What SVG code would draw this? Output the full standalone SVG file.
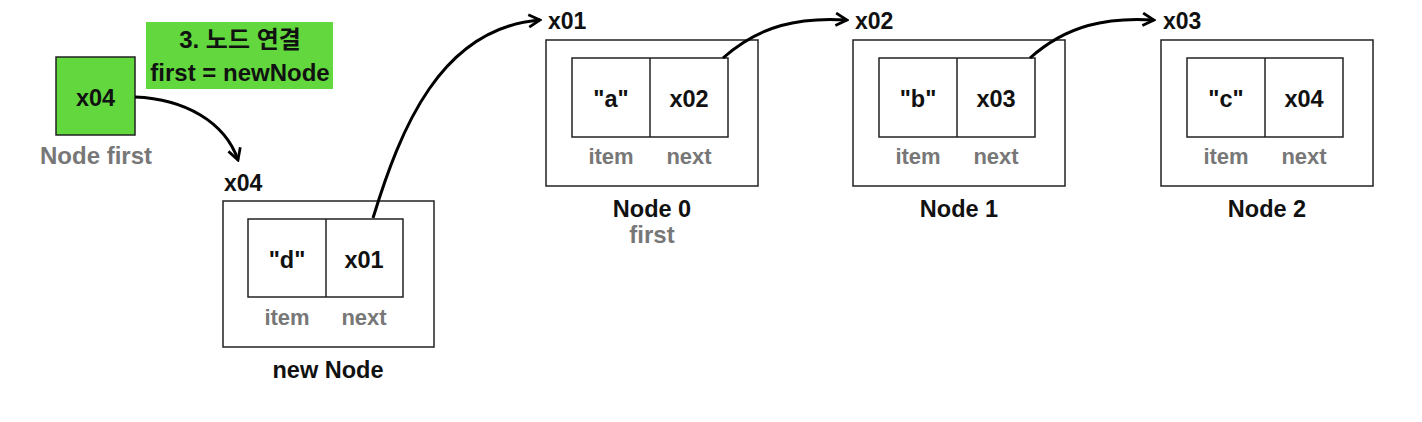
<svg xmlns="http://www.w3.org/2000/svg" width="1422" height="422" viewBox="0 0 1422 422">
<defs>
<style>
.t{font-family:"Liberation Sans",Arial,sans-serif;font-size:23.5px;fill:#111;text-anchor:middle}
.b{font-weight:bold}
.g{fill:#777;font-weight:bold;font-size:22px}
.g2{font-size:24px}
.lbl{font-family:"Liberation Sans",Arial,sans-serif;font-size:23px;fill:#111}
.box{fill:#fff;stroke:#222;stroke-width:1.5}
.conn{fill:none;stroke:#000;stroke-width:3;marker-end:url(#ah)}
</style>
<marker id="ah" viewBox="0 0 12 12" refX="10" refY="6" markerWidth="5" markerHeight="5" orient="auto" markerUnits="strokeWidth">
<path d="M1,1 L10,6 L1,11" fill="none" stroke="#000" stroke-width="2.2"/>
</marker>
</defs>
<rect width="1422" height="422" fill="#fff"/>

<g id="label">
<rect x="146" y="22" width="187" height="67" fill="#62d83e"/>
<text class="t b" x="240" y="48" style="font-family:'Liberation Sans','Noto Sans CJK KR',sans-serif;font-size:24px">3. 노드 연결</text>
<text class="t b" x="240" y="81" style="font-size:24px">first = newNode</text>
</g>

<g id="first">
<rect x="56" y="57" width="79" height="78" fill="#62d83e" stroke="#222" stroke-width="1.5"/>
<text class="t b" x="95.5" y="106">x04</text>
<text class="t g g2" x="96" y="164">Node first</text>
</g>

<g id="newNode">
<text class="lbl b" x="224" y="191">x04</text>
<rect class="box" x="223" y="201" width="211" height="146"/>
<rect class="box" x="248" y="219" width="155" height="78"/>
<line x1="326" y1="219" x2="326" y2="297" stroke="#222" stroke-width="1.5"/>
<text class="t b" x="287" y="268">"d"</text>
<text class="t b" x="364" y="268">x01</text>
<text class="t g" x="287" y="325">item</text>
<text class="t g" x="364" y="325">next</text>
<text class="t b" x="328" y="378">new Node</text>
</g>

<g id="node0">
<text class="lbl b" x="548" y="29">x01</text>
<rect class="box" x="546" y="40" width="212" height="146"/>
<rect class="box" x="572" y="58" width="156" height="79"/>
<line x1="650" y1="58" x2="650" y2="137" stroke="#222" stroke-width="1.5"/>
<text class="t b" x="611" y="107">"a"</text>
<text class="t b" x="689" y="107">x02</text>
<text class="t g" x="611" y="164">item</text>
<text class="t g" x="689" y="164">next</text>
<text class="t b" x="652" y="217">Node 0</text>
<text class="t g g2" x="652" y="243">first</text>
</g>

<g id="node1">
<text class="lbl b" x="855" y="29">x02</text>
<rect class="box" x="853" y="40" width="212" height="146"/>
<rect class="box" x="879" y="58" width="156" height="79"/>
<line x1="957" y1="58" x2="957" y2="137" stroke="#222" stroke-width="1.5"/>
<text class="t b" x="918" y="107">"b"</text>
<text class="t b" x="996" y="107">x03</text>
<text class="t g" x="918" y="164">item</text>
<text class="t g" x="996" y="164">next</text>
<text class="t b" x="959" y="217">Node 1</text>
</g>

<g id="node2">
<text class="lbl b" x="1163" y="29">x03</text>
<rect class="box" x="1161" y="40" width="212" height="146"/>
<rect class="box" x="1187" y="58" width="156" height="79"/>
<line x1="1265" y1="58" x2="1265" y2="137" stroke="#222" stroke-width="1.5"/>
<text class="t b" x="1226" y="107">"c"</text>
<text class="t b" x="1304" y="107">x04</text>
<text class="t g" x="1226" y="164">item</text>
<text class="t g" x="1304" y="164">next</text>
<text class="t b" x="1267" y="217">Node 2</text>
</g>

<g id="connectors">
<path class="conn" d="M135,97 C185,99 225,122 238,160"/>
<path class="conn" d="M373,218 C400,130 440,28 540,20"/>
<path class="conn" d="M723,58 C760,25 800,17 847,20"/>
<path class="conn" d="M1030,58 C1067,25 1107,17 1154,20"/>
</g>
</svg>
